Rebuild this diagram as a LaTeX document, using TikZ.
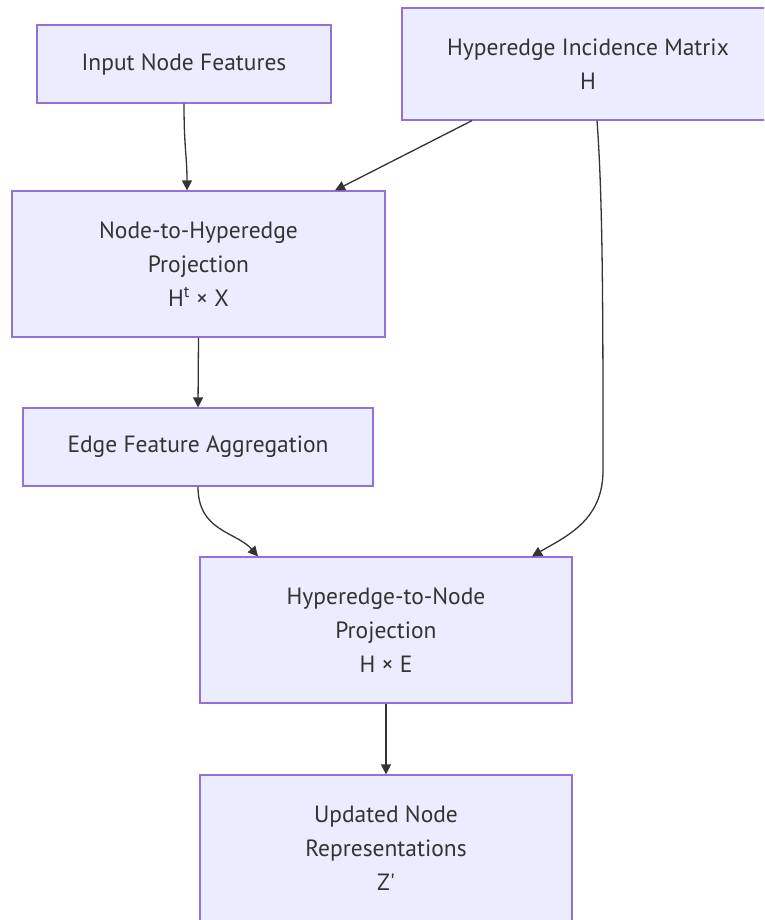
\documentclass[tikz,border=0pt]{standalone}
\usepackage{fontspec}
\newfontfamily\labelfont{PT Sans}
\usetikzlibrary{arrows.meta,calc}
\definecolor{boxfill}{HTML}{ECECFF}
\definecolor{boxline}{HTML}{9370DB}
\definecolor{ink}{HTML}{333333}
\tikzset{
  stepbox/.style={draw=boxline, fill=boxfill, line width=1.2pt, align=center,
    text=ink, font=\labelfont\fontsize{23.5}{34}\selectfont, inner sep=0pt},
  flow/.style={draw=ink, line width=1.3pt, -{Triangle[length=10pt,width=10pt]}}
}
\begin{document}
\begin{tikzpicture}[x=1pt,y=-1pt]
\useasboundingbox (0,0) rectangle (764,920);
\begin{scope}
\clip (0,0) rectangle (764,920);
% boxes
\node[stepbox, minimum width=294pt, minimum height=78pt] (inp) at (184,64) {Input Node Features};
\node[stepbox, minimum width=372pt, minimum height=112pt] (hm) at (588,64) {Hyperedge Incidence Matrix\\H};
\node[stepbox, minimum width=373pt, minimum height=146pt] (nh) at (198.5,264) {Node-to-Hyperedge\\Projection\\H\textsuperscript{t} × X};
\node[stepbox, minimum width=350pt, minimum height=78pt] (efa) at (198,447) {Edge Feature Aggregation};
\node[stepbox, minimum width=372pt, minimum height=146pt] (hn) at (386,630) {Hyperedge-to-Node\\Projection\\H × E};
\node[stepbox, minimum width=372pt, minimum height=146pt] (out) at (386,848) {Updated Node\\Representations\\Z'};
\end{scope}
% connectors
\draw[flow] (inp.south) .. controls ($(inp.south)+(0,45)$) and ($(nh.north)+(-11.5,-35)$) .. ([xshift=-11.5pt]nh.north);
\draw[flow] ([xshift=-116pt]hm.south) -- ([xshift=136.5pt]nh.north);
\draw[flow] ([xshift=9pt]hm.south) .. controls ($(hm.south)+(15,80)$) and ($(hm.south)+(15,200)$) .. ($(hm.south)+(15,350)$)
  .. controls ($(hm.south)+(15,400)$) and ($(hn.north)+(180,-20)$) .. ([xshift=146pt]hn.north);
\draw[flow] (nh.south) -- (efa.north);
\draw[flow] (efa.south) .. controls ($(efa.south)+(0,45)$) and ($(hn.north)+(-150,-25)$) .. ([xshift=-128pt]hn.north);
\draw[flow] (hn.south) -- (out.north);
\end{tikzpicture}
\end{document}
